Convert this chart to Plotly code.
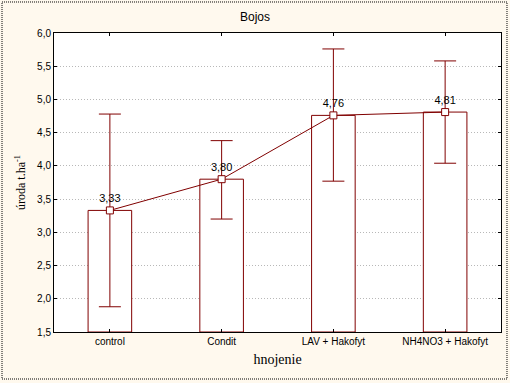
import plotly.graph_objects as go

categories = ["control", "Condit", "LAV + Hakofyt", "NH4NO3 + Hakofyt"]
means = [3.33, 3.80, 4.76, 4.81]
upper = [4.78, 4.38, 5.76, 5.58]
lower = [1.88, 3.20, 3.77, 4.04]
labels = ["3,33", "3,80", "4,76", "4,81"]

red = "#800000"
err_plus = [u - m for u, m in zip(upper, means)]
err_minus = [m - l for m, l in zip(means, lower)]

fig = go.Figure()
fig.add_trace(go.Bar(
    x=categories, y=[m - 1.5 for m in means], base=1.5, width=0.39,
    marker=dict(color="white", line=dict(color=red, width=1)),
    hoverinfo="skip", showlegend=False))
fig.add_trace(go.Scatter(
    x=categories, y=means, mode="lines+markers+text",
    text=labels, textposition="top center",
    textfont=dict(family="Liberation Sans, Arial", size=11, color="black"),
    line=dict(color=red, width=1),
    marker=dict(symbol="square", size=7, color="white", line=dict(color=red, width=1)),
    error_y=dict(type="data", symmetric=False, array=err_plus, arrayminus=err_minus,
                 color=red, thickness=1, width=11),
    showlegend=False))

fig.update_layout(
    width=510, height=383,
    margin=dict(l=54, r=9, t=33, b=51, autoexpand=False),
    paper_bgcolor="#FFF9EE", plot_bgcolor="white",
    separators=", ",
    title=dict(text="Bojos", x=0.5, xanchor="center", y=0.955, yanchor="middle",
               font=dict(family="Liberation Sans, Arial", size=12, color="black")),
    font=dict(family="Liberation Sans, Arial", size=10, color="black"),
    xaxis=dict(showline=True, linecolor="black", linewidth=1, mirror="ticks",
               ticks="inside", ticklen=3, tickcolor="black", showgrid=False,
               automargin=False,
               title=dict(text="hnojenie", standoff=8,
                          font=dict(family="Liberation Serif, Times New Roman", size=14))),
    yaxis=dict(range=[1.5, 6.0], dtick=0.5, tickformat=".1f",
               showline=True, linecolor="black", linewidth=1, mirror="ticks",
               ticks="inside", ticklen=3, tickcolor="black",
               showgrid=True, gridcolor="#b8b8b8", griddash="1px,2px", gridwidth=1,
               zeroline=False, automargin=False,
               title=dict(text="úroda t.ha<sup>-1</sup>", standoff=8,
                          font=dict(family="Liberation Serif, Times New Roman", size=12))),
    shapes=[dict(type="rect", xref="paper", yref="paper",
                 x0=-0.1163, x1=1.0134, y0=-0.1572, y1=1.1037,
                 line=dict(color="black", width=1, dash="1px,1px"), layer="below")],
)

fig.write_html("out.html", config={"displayModeBar": False},
               post_script="document.body.style.margin='0';document.body.style.overflow='hidden';")
